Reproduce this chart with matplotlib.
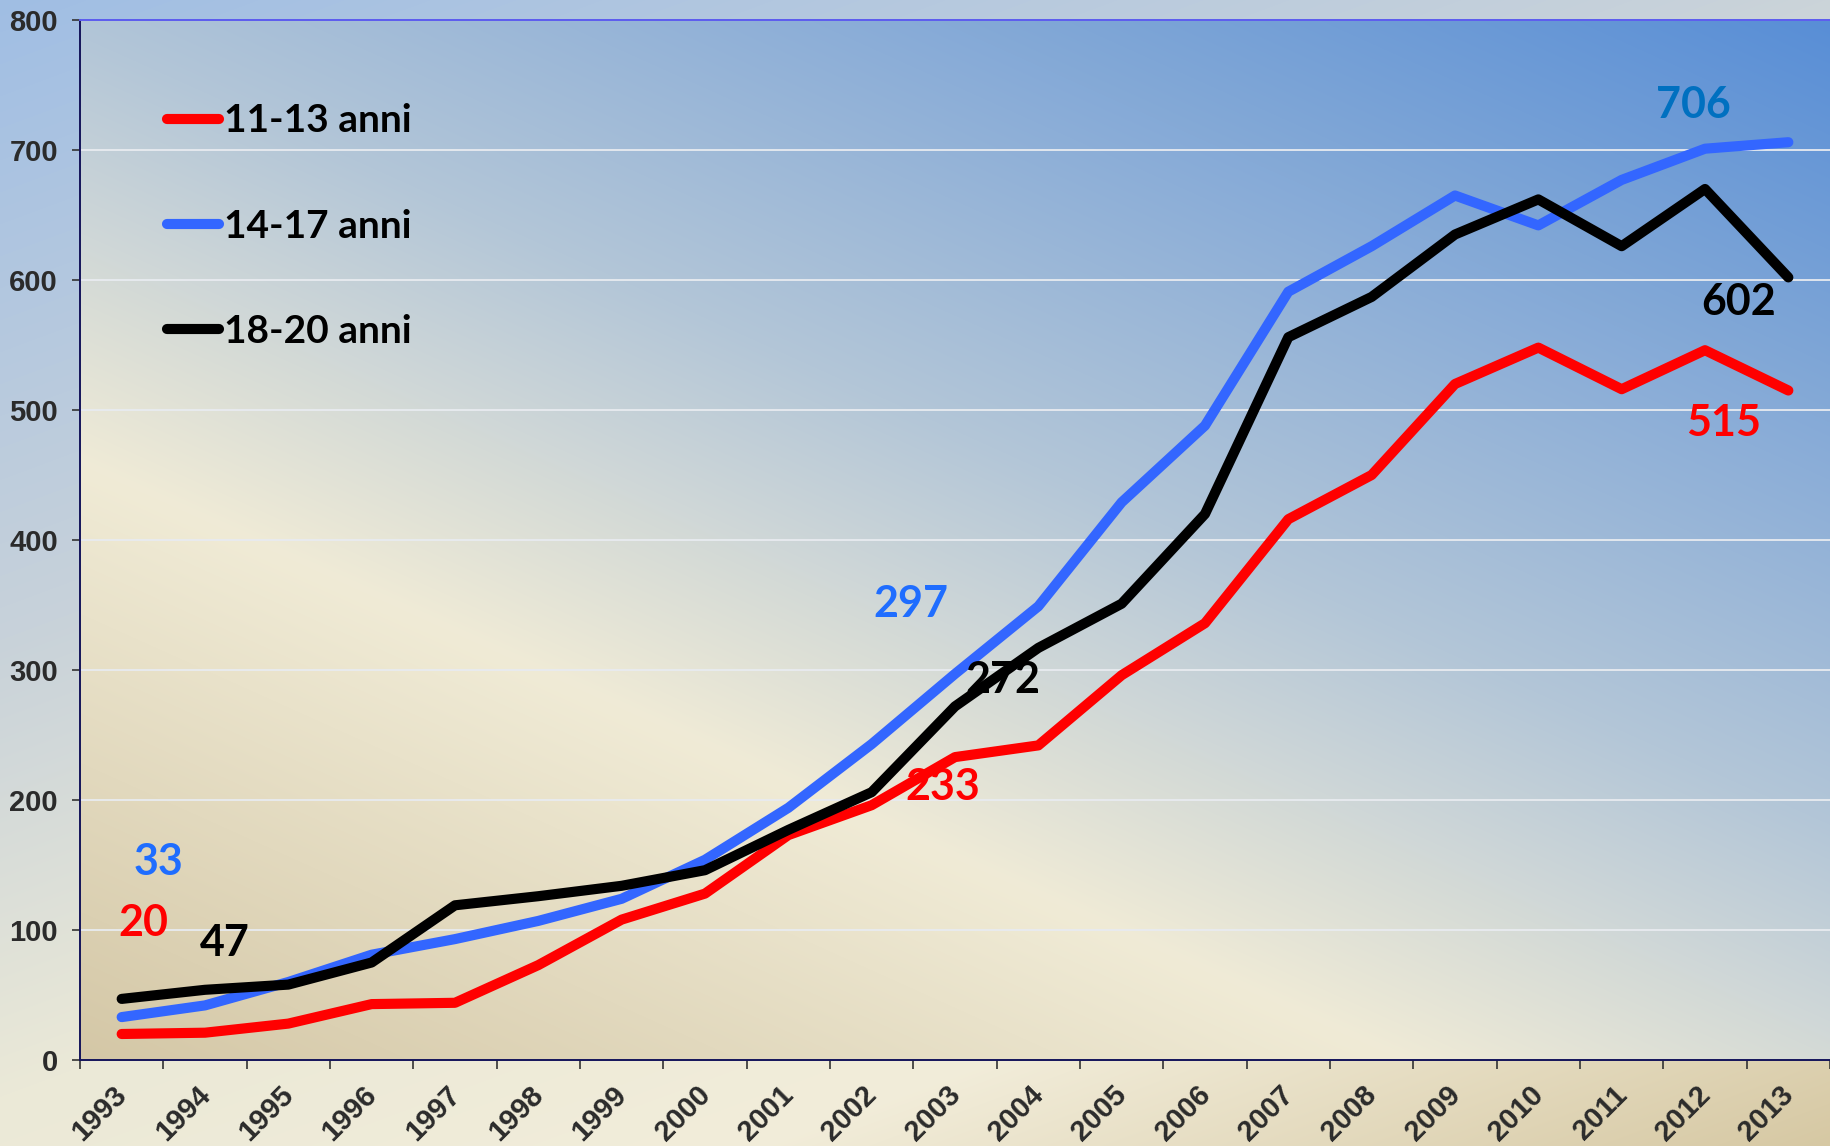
import numpy as np
import matplotlib
matplotlib.use('Agg')
import matplotlib.pyplot as plt
import matplotlib.transforms as mtransforms
from matplotlib.font_manager import FontProperties

# ---------------- data ----------------
years = [str(y) for y in range(1993, 2014)]
eta_11_13 = [20, 21, 28, 43, 44, 73, 108, 128, 173, 196, 233, 242, 296, 336,
             416, 450, 520, 548, 516, 546, 515]
eta_14_17 = [33, 42, 60, 81, 93, 107, 124, 154, 194, 243, 297, 349, 429, 488,
             591, 626, 665, 642, 677, 701, 706]
eta_18_20 = [47, 54, 58, 75, 119, 126, 134, 146, 177, 206, 272, 317, 351, 420,
             556, 587, 635, 662, 626, 670, 602]
series_names = ['11-13 anni', '14-17 anni', '18-20 anni']

# ---------------- figure ----------------
W, H = 1830, 1146
fig = plt.figure(figsize=(W / 100, H / 100), dpi=100)

ax_l, ax_r, ax_t, ax_b = 80, 1830, 20, 1060   # plot area in pixels (y down)


def ramp(t, stops, cols):
    cols = np.array(cols, dtype=float) / 255.0
    out = np.zeros(t.shape + (3,))
    for c in range(3):
        out[..., c] = np.interp(t, stops, cols[:, c])
    return out


yy, xx = np.mgrid[0:H, 0:W].astype(float)
# figure background: blue top-left -> cream -> tan bottom-right
s_fig = (0.35 * xx + 0.94 * yy) / (0.35 * W + 0.94 * H)
img = ramp(s_fig, [0.0, 0.35, 0.6, 0.78, 1.0],
           [(160, 190, 228), (200, 210, 218), (235, 233, 215),
            (242, 237, 218), (214, 200, 163)])
# plot area: tan bottom-left -> cream -> blue top-right
s_ax = (0.41 * xx - 0.91 * yy + 932) / 1664
img_ax = ramp(s_ax, [0.0, 0.326, 0.56, 1.0],
              [(212, 199, 166), (240, 235, 214), (179, 198, 216), (88, 142, 214)])
inside = (xx >= ax_l) & (xx < ax_r) & (yy >= ax_t) & (yy < ax_b)
img[inside] = img_ax[inside]

bg = fig.add_axes([0, 0, 1, 1], zorder=-1)
bg.imshow(img, aspect='auto', interpolation='bilinear')
bg.axis('off')

ax = fig.add_axes([ax_l / W, (H - ax_b) / H, (ax_r - ax_l) / W, (ax_b - ax_t) / H])
ax.patch.set_visible(False)

x = np.arange(len(years))
lw = 7.3
ax.plot(x, eta_11_13, color='#ff0000', lw=lw, solid_capstyle='round',
        solid_joinstyle='round', label=series_names[0], zorder=3)
ax.plot(x, eta_14_17, color='#3366ff', lw=lw, solid_capstyle='round',
        solid_joinstyle='round', label=series_names[1], zorder=4)
ax.plot(x, eta_18_20, color='#000000', lw=lw, solid_capstyle='round',
        solid_joinstyle='round', label=series_names[2], zorder=5)

ax.set_xlim(-0.5, len(years) - 0.5)
ax.set_ylim(0, 800)

# axes styling
ax.set_yticks(np.arange(0, 801, 100))
ax.set_xticks(x, years)
ax.set_xticks(np.arange(-0.5, len(years)), minor=True)
ax.grid(axis='y', color='#e8ebf0', lw=1.3)
ax.set_axisbelow(True)
ax.spines['right'].set_visible(False)
ax.spines['top'].set_color('#5b5bef')
ax.spines['top'].set_linewidth(1.4)
ax.spines['left'].set_color('#14145a')
ax.spines['left'].set_linewidth(1.4)
ax.spines['bottom'].set_color('#14145a')
ax.spines['bottom'].set_linewidth(1.4)

tick_font = FontProperties(family='Liberation Sans', weight='bold', size=21)
ax.tick_params(axis='y', length=5.8, width=1.2, color='#333333', pad=10,
               labelcolor='#2b2b2b')
ax.tick_params(axis='x', which='major', length=0, pad=15, labelcolor='#2b2b2b')
ax.tick_params(axis='x', which='minor', length=6.5, width=1.2, color='#333333')
for lab in ax.get_yticklabels():
    lab.set_fontproperties(tick_font)
shift = mtransforms.ScaledTranslation(-0.09, 0, fig.dpi_scale_trans)
for lab in ax.get_xticklabels():
    lab.set_fontproperties(tick_font)
    lab.set_rotation(45)
    lab.set_ha('right')
    lab.set_va('top')
    lab.set_rotation_mode('anchor')
    lab.set_transform(lab.get_transform() + shift)

# legend
leg_font = FontProperties(family='Lato', weight='bold', size=28)
leg = ax.legend(loc='upper left', bbox_to_anchor=(0.0497, 0.92), frameon=False,
                prop=leg_font, handlelength=1.35, handletextpad=0.12,
                labelspacing=1.81, borderaxespad=0, borderpad=0)

# data labels (index, series, color, offset in pixels)
lab_font = FontProperties(family='Lato', weight='bold', size=31)
labels = [
    (0, eta_14_17, '#1f6dff', (37, 155)),
    (0, eta_11_13, '#ff0000', (22, 111)),
    (0, eta_18_20, '#000000', (103, 56)),
    (10, eta_14_17, '#1f6dff', (-44, 70)),
    (10, eta_18_20, '#000000', (48, 26)),
    (10, eta_11_13, '#ff0000', (-12, -30)),
    (20, eta_14_17, '#0070c0', (-95, 37)),
    (20, eta_18_20, '#000000', (-50, -25)),
    (20, eta_11_13, '#ff0000', (-65, -33)),
]
for i, ser, col, off in labels:
    ax.annotate(str(ser[i]), xy=(i, ser[i]), xytext=off, textcoords='offset pixels',
                ha='center', va='center', color=col, fontproperties=lab_font, zorder=6)

fig.savefig('out.png', dpi=100)
